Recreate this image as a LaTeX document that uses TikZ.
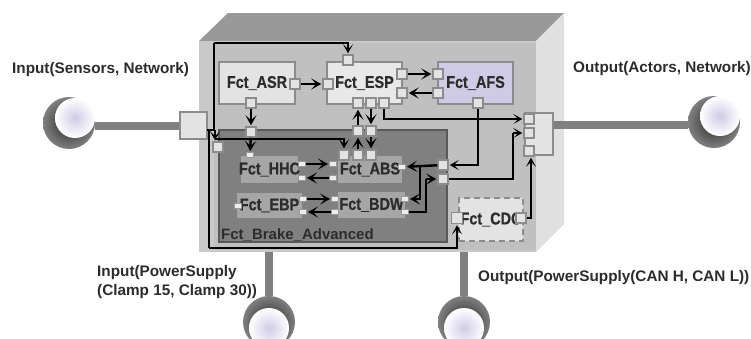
\documentclass[tikz,border=0pt]{standalone}
\usepackage{fontspec}
\usepackage{tikz}
\usetikzlibrary{arrows.meta}
\setmainfont{Liberation Sans}
\newfontfamily\fctfont{Liberation Sans}[FakeStretch=0.85,FakeBold=0.6]
\definecolor{frontgray}{HTML}{C9C9C9}
\definecolor{innergray}{HTML}{C0C0C0}
\definecolor{topgray}{HTML}{999999}
\definecolor{sidegray}{HTML}{E0E0E0}
\definecolor{rimgray}{HTML}{8C8C8C}
\definecolor{afsblue}{HTML}{CFCBE6}
\definecolor{inkgray}{HTML}{2C2C2C}
\newcommand{\fct}[1]{\makebox[0pt]{#1}}
\tikzset{
  fctbox/.style={draw=rimgray,line width=1.5pt,inner sep=0pt,text=inkgray,font=\fctfont\bfseries\fontsize{17}{18}\selectfont},
  subbox/.style={fill=black!35,inner sep=0pt,text=inkgray,font=\fctfont\bfseries\fontsize{17}{18}\selectfont},
  port/.style={draw=rimgray,fill=black!11,line width=1.5pt,inner sep=0pt,minimum size=10pt},
  smallport/.style={draw=black!40,fill=black!7,line width=1pt,inner sep=0pt,minimum width=7pt,minimum height=5pt},
  outlabel/.style={inner sep=0pt,text=inkgray,align=left,font=\bfseries\fontsize{15.3}{19}\selectfont},
  wire/.style={draw=black,line width=1.6pt,-{Stealth[length=9pt,width=10pt,inset=5pt]},shorten >=1pt},
  thickwire/.style={wire,line width=2.4pt,-{Stealth[length=10pt,width=11pt,inset=5pt]}},
  plainwire/.style={draw=black,line width=1.6pt},
  cable/.style={draw=black!50,line width=8pt},
  moonback/.style={circle,inner sep=0pt,minimum size=52pt,shade,inner color=black!85,outer color=black!50},
  moonfront/.style={circle,inner sep=0pt,minimum size=40pt,shade,inner color=afsblue,outer color=white}
}
\begin{document}
\begin{tikzpicture}[x=1pt,y=-1pt]
  \clip (0,0) rectangle (751,338);
  % housing
  \fill [topgray] (199,41) -- (228,13) -- (564,13) -- (536,41) -- cycle;
  \fill [sidegray] (536,41) -- (564,13) -- (564,224) -- (536,252) -- cycle;
  \fill [frontgray] (199,41) rectangle (536,252);
  \fill [innergray] (214,43) rectangle (536,250);
  % plugs
  \node [moonback] (moonin) at (69,123) {};
  \node [moonback] (moonout) at (714,122) {};
  \node [moonback] (moonpwr) at (269,322) {};
  \node [moonback] (mooncan) at (464,322) {};
  \node [port,minimum width=27pt,minimum height=27pt] (inbox) at (193.5,125.5) {};
  \node [port,minimum width=28pt,minimum height=42pt] (outbox) at (539,134) {};
  \draw [cable] (inbox.west) -- (moonin.east |- inbox.west);
  \draw [cable] (outbox.east |- 0,125) -- (moonout.west |- 0,125);
  \draw [cable] (moonpwr.north) -- (moonpwr.north |- 0,252);
  \draw [cable] (mooncan.north) -- (mooncan.north |- 0,252);
  \node [moonfront] (lightin) at (75,118) {};
  \node [moonfront] (lightout) at (720,116) {};
  \node [moonfront] (lightpwr) at (269,328) {};
  \node [moonfront] (lightcan) at (464,328) {};
  % functions
  \node [fctbox,fill=black!11,minimum width=76pt,minimum height=42pt] (asr) at (257,83) {\fct{Fct\_ASR}};
  \node [fctbox,fill=black!9,minimum width=75pt,minimum height=42pt] (esp) at (364.5,83) {\fct{Fct\_ESP}};
  \node [fctbox,fill=afsblue,minimum width=75pt,minimum height=42pt] (afs) at (475.5,83) {\fct{Fct\_AFS}};
  \node [fctbox,fill=black!50,draw=black!65,minimum width=228pt,minimum height=112pt] (brake) at (333,186) {};
  \node [anchor=south west,inner sep=0pt,text=inkgray,font=\bfseries\fontsize{15}{17}\selectfont] (braketext) at (221,242) {Fct\_Brake\_Advanced};
  \node [subbox,minimum width=57pt,minimum height=27pt] (hhc) at (269.5,169.5) {\fct{Fct\_HHC}};
  \node [subbox,minimum width=64pt,minimum height=27pt] (abs) at (370,169.5) {\fct{Fct\_ABS}};
  \node [subbox,minimum width=65pt,minimum height=25pt] (ebp) at (269.5,205.5) {\fct{Fct\_EBP}};
  \node [subbox,minimum width=67pt,minimum height=26pt] (bdw) at (371.5,205) {\fct{Fct\_BDW}};
  \node [fctbox,fill=black!11,dash pattern=on 6pt off 4pt,minimum width=64pt,minimum height=43pt] (cdc) at (491,219.5) {\fct{Fct\_CDC}};
  % ports
  \node [port] (asrright) at (295,84) {};
  \node [port] (asrdown) at (251,103) {};
  \node [port] (espleft) at (328,84) {};
  \node [port] (esptop) at (348,60) {};
  \node [port] (espa) at (402,74) {};
  \node [port] (espb) at (402,93) {};
  \node [port] (espc) at (358,103) {};
  \node [port] (espd) at (371,103) {};
  \node [port] (espe) at (384,103) {};
  \node [port] (afsa) at (438,74) {};
  \node [port] (afsb) at (438,93) {};
  \node [port] (afsdown) at (478,103) {};
  \node [port] (brakeasr) at (251,132) {};
  \node [port] (brakec) at (358,131) {};
  \node [port] (braked) at (371,131) {};
  \node [port] (brakein) at (218,147) {};
  \node [port] (brakea) at (443,165) {};
  \node [port] (brakeb) at (443,179) {};
  \node [port] (absa) at (344,155) {};
  \node [port] (absc) at (358,155) {};
  \node [port] (absd) at (371,155) {};
  \node [smallport] (hhctop) at (250,155) {};
  \node [smallport] (hhca) at (302,164) {};
  \node [smallport] (hhcb) at (302,178) {};
  \node [smallport] (absl) at (333,164) {};
  \node [smallport] (absm) at (333,178) {};
  \node [smallport] (absr) at (402,167) {};
  \node [smallport] (ebpl) at (238,206) {};
  \node [smallport] (ebpa) at (303,199) {};
  \node [smallport] (ebpb) at (303,212) {};
  \node [smallport] (bdwl) at (335,199) {};
  \node [smallport] (bdwm) at (335,212) {};
  \node [smallport] (bdwa) at (405,199) {};
  \node [smallport] (bdwb) at (405,212) {};
  \node [port,minimum size=11pt] (cdcin) at (457,218) {};
  \node [port] (cdcout) at (521,218) {};
  \node [port] (outa) at (529,119) {};
  \node [port] (outb) at (529,133) {};
  \node [port] (outc) at (529,151) {};
  \coordinate (injoin) at (207,130);
  \coordinate (topjoin) at (214,43);
  \coordinate (tapjoin) at (215,130);
  \coordinate (tapline) at (215,139);
  \coordinate (lowjoin) at (209,248);
  \coordinate (afsjoin) at (420,165);
  \coordinate (bdwjoin) at (426,179);
  \coordinate (outjoin) at (513,133);
  % wires
  \draw [thickwire] (asrright) -- (espleft);
  \draw [thickwire] (asrdown) -- (brakeasr);
  \draw [thickwire] (brakeasr) -- (hhctop);
  \draw [thickwire] (espa) -- (afsa);
  \draw [thickwire] (afsb) -- (espb);
  \draw [thickwire] (brakec) -- (espc);
  \draw [thickwire] (espd) -- (braked);
  \draw [thickwire] (absc) -- (brakec);
  \draw [thickwire] (braked) -- (absd);
  \draw [thickwire] (hhca) -- (absl);
  \draw [thickwire] (absm) -- (hhcb);
  \draw [thickwire] (ebpa) -- (bdwl);
  \draw [thickwire] (bdwm) -- (ebpb);
  \draw [plainwire] (injoin) -| (topjoin);
  \draw [wire] (topjoin) -| (esptop);
  \draw [plainwire] (injoin) -- (tapjoin);
  \draw [wire] (tapjoin) -- (brakein.north -| tapjoin);
  \draw [wire] (tapline) -| (absa);
  \draw [plainwire] (injoin) -| (lowjoin);
  \draw [wire] (lowjoin) -| (cdcin);
  \draw [wire] (espe) |- (outa);
  \draw [wire] (afsdown) |- (brakea);
  \draw [plainwire] (brakeb) -| (outjoin);
  \draw [wire] (outjoin) -- (outb);
  \draw [thickwire] (brakea) -- (absr);
  \draw [thickwire] (afsjoin) |- (bdwa);
  \draw [plainwire,line width=2.4pt] (bdwb) -| (bdwjoin);
  \draw [thickwire] (bdwjoin) -- (brakeb);
  \draw [wire] (cdcout) -| ([xshift=2pt]outc.south);
  % labels
  \node [outlabel,anchor=base west] (inlabel) at (12,73) {Input(Sensors, Network)};
  \node [outlabel,anchor=base west] (outlabel) at (573,72) {Output(Actors, Network)};
  \node [outlabel,anchor=north west] (pwrlabel) at (97,265) {Input(PowerSupply\\(Clamp 15, Clamp 30))};
  \node [outlabel,anchor=base west] (canlabel) at (478,281) {Output(PowerSupply(CAN H, CAN L))};
\end{tikzpicture}
\end{document}
